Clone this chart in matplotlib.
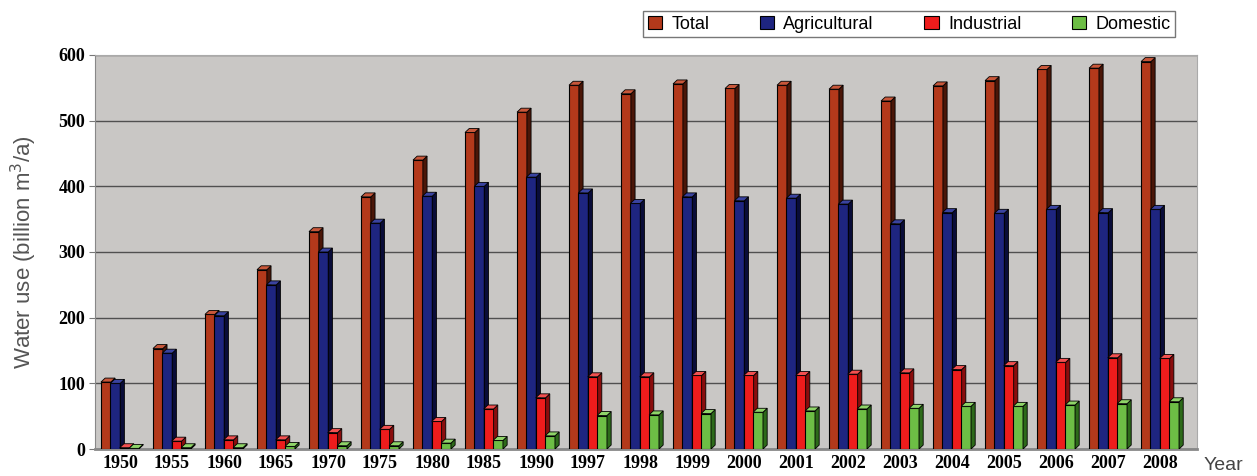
import numpy as np
import matplotlib.pyplot as plt
from matplotlib.patches import Polygon, Patch

years = ["1950", "1955", "1960", "1965", "1970", "1975", "1980", "1985", "1990", "1997", "1998",
         "1999", "2000", "2001", "2002", "2003", "2004", "2005", "2006", "2007", "2008"]
total = [102, 153, 205, 273, 331, 384, 440, 482, 513, 554, 541, 556, 549, 554, 548, 530, 553, 561, 578, 580, 590]
agricultural = [100, 146, 203, 250, 300, 344, 385, 400, 414, 390, 374, 384, 378, 382, 373, 343, 360, 359, 365, 360, 365]
industrial = [2, 12, 14, 14, 25, 30, 42, 61, 78, 110, 110, 112, 112, 112, 114, 116, 121, 127, 132, 139, 138]
domestic = [1, 2, 2, 4, 5, 5, 9, 13, 20, 51, 52, 54, 56, 58, 61, 62, 65, 65, 67, 69, 72]

series = [("Total", total, "#B3391B", "#4A1608", "#C8573A"),
          ("Agricultural", agricultural, "#1E2580", "#090C38", "#3A43A0"),
          ("Industrial", industrial, "#EE1C1C", "#8A0D0D", "#F25050"),
          ("Domestic", domestic, "#6DBE45", "#2D6A1A", "#8FD468")]

fig = plt.figure(figsize=(12.57, 4.76), dpi=100)
ax = fig.add_axes([95/1257, 27/476, 1102/1257, 394/476])
ax.set_facecolor("#C9C7C5")

x = np.arange(len(years))
w = 0.19
dx, dy = 0.08, 6   # 3d depth of the bars
offsets = [-0.27, -0.09, 0.09, 0.27]

for k, (name, vals, c, cside, ctop) in enumerate(series):
    xs = x + offsets[k]
    ax.bar(xs, vals, width=w, color=c, edgecolor="black", linewidth=0.8, zorder=3 + k)
    for xi, v in zip(xs, vals):
        x0, x1 = xi - w/2, xi + w/2
        side = Polygon([(x1, 0), (x1 + dx, dy), (x1 + dx, v + dy), (x1, v)],
                       closed=True, facecolor=cside, edgecolor="black", linewidth=0.6, zorder=3 + k)
        top = Polygon([(x0, v), (x0 + dx, v + dy), (x1 + dx, v + dy), (x1, v)],
                      closed=True, facecolor=ctop, edgecolor="black", linewidth=0.6, zorder=3 + k)
        ax.add_patch(side)
        ax.add_patch(top)

ax.set_xlim(-0.48, 20.71)
ax.set_ylim(0, 600)
ax.set_yticks(range(0, 601, 100))
ax.set_xticks(x)
ax.set_xticklabels(years)
ax.grid(axis="y", color="#505050", linewidth=1, zorder=1)
ax.set_axisbelow(True)

for lab in ax.get_xticklabels():
    lab.set_fontfamily("Liberation Serif")
    lab.set_fontweight("bold")
    lab.set_fontsize(13)
for lab in ax.get_yticklabels():
    lab.set_fontfamily("Liberation Serif")
    lab.set_fontweight("bold")
    lab.set_fontsize(13)
ax.tick_params(axis="x", length=0, pad=4)
ax.tick_params(axis="y", length=4, color="#777777", pad=3)

for s in ["top", "right"]:
    ax.spines[s].set_color("#AAAAAA")
ax.spines["left"].set_color("#888888")
ax.spines["bottom"].set_color("#888888")
ax.spines["bottom"].set_linewidth(2)

ax.set_ylabel("Water use (billion m$^3$/a)", fontsize=16, color="#555555",
              fontfamily="Liberation Sans", labelpad=14)
fig.text(1204/1257, 1 - 466/476, "Year", fontsize=14, color="#444444",
         fontfamily="Liberation Sans", va="center")

handles = [Patch(facecolor=c, edgecolor="black", linewidth=0.8) for _, _, c, _, _ in series]
leg = fig.legend(handles, [s[0] for s in series], loc="upper right",
                 bbox_to_anchor=(1175/1257, 1 - 11/476), ncol=4, fancybox=False,
                 edgecolor="#777777", framealpha=1, handlelength=0.8, handleheight=0.8,
                 columnspacing=2.8, handletextpad=0.5, borderpad=0.25, borderaxespad=0,
                 prop={"family": "Liberation Sans", "size": 13})
leg.get_frame().set_linewidth(1)

fig.savefig("out.png", dpi=100)
